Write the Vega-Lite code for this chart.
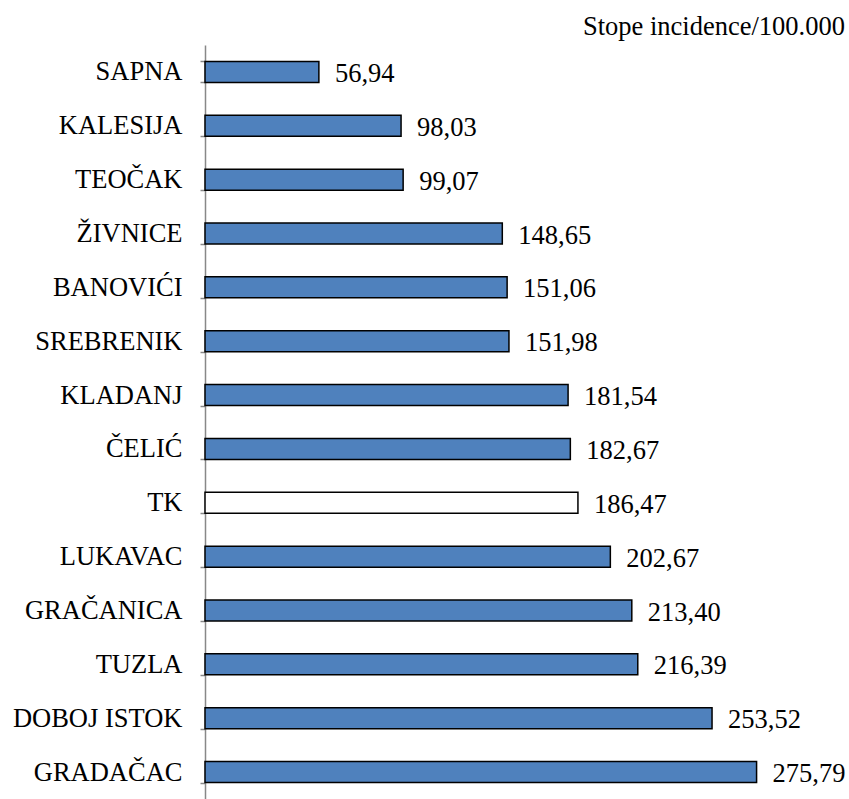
{
  "$schema": "https://vega.github.io/schema/vega-lite/v6.json",
  "autosize": {"type": "none"},
  "width": 600,
  "height": 754,
  "padding": {"left": 205, "top": 45, "right": 44, "bottom": 0},
  "background": "white",
  "title": {
    "text": "Stope incidence/100.000",
    "anchor": "end",
    "frame": "group",
    "font": "Liberation Serif",
    "fontSize": 26.5,
    "fontWeight": "normal",
    "color": "black",
    "baseline": "bottom",
    "offset": 3,
    "dx": 40,
    "dy": 38
  },
  "config": {
    "view": {"stroke": null},
    "font": "Liberation Serif"
  },
  "data": {
    "values": [
      {"mjesto": "SAPNA", "stopa": 56.94, "label": "56,94", "tip": "općina"},
      {"mjesto": "KALESIJA", "stopa": 98.03, "label": "98,03", "tip": "općina"},
      {"mjesto": "TEOČAK", "stopa": 99.07, "label": "99,07", "tip": "općina"},
      {"mjesto": "ŽIVNICE", "stopa": 148.65, "label": "148,65", "tip": "općina"},
      {"mjesto": "BANOVIĆI", "stopa": 151.06, "label": "151,06", "tip": "općina"},
      {"mjesto": "SREBRENIK", "stopa": 151.98, "label": "151,98", "tip": "općina"},
      {"mjesto": "KLADANJ", "stopa": 181.54, "label": "181,54", "tip": "općina"},
      {"mjesto": "ČELIĆ", "stopa": 182.67, "label": "182,67", "tip": "općina"},
      {"mjesto": "TK", "stopa": 186.47, "label": "186,47", "tip": "kanton"},
      {"mjesto": "LUKAVAC", "stopa": 202.67, "label": "202,67", "tip": "općina"},
      {"mjesto": "GRAČANICA", "stopa": 213.40, "label": "213,40", "tip": "općina"},
      {"mjesto": "TUZLA", "stopa": 216.39, "label": "216,39", "tip": "općina"},
      {"mjesto": "DOBOJ ISTOK", "stopa": 253.52, "label": "253,52", "tip": "općina"},
      {"mjesto": "GRADAČAC", "stopa": 275.79, "label": "275,79", "tip": "općina"}
    ]
  },
  "encoding": {
    "y": {
      "field": "mjesto",
      "type": "nominal",
      "sort": null,
      "scale": {"paddingInner": 0.61, "paddingOuter": 0.305},
      "axis": {
        "title": null,
        "domainColor": "#888888",
        "domainWidth": 1.5,
        "tickColor": "#888888",
        "tickWidth": 1.5,
        "tickSize": 5,
        "tickBand": "extent",
        "labelPadding": 18,
        "labelFont": "Liberation Serif",
        "labelFontSize": 26.5,
        "labelColor": "black",
        "labelLimit": 300
      }
    },
    "x": {
      "field": "stopa",
      "type": "quantitative",
      "scale": {"domain": [0, 300]},
      "axis": null
    }
  },
  "layer": [
    {
      "mark": {"type": "bar", "stroke": "black", "strokeWidth": 1.5},
      "encoding": {
        "fill": {
          "field": "tip",
          "type": "nominal",
          "scale": {"domain": ["općina", "kanton"], "range": ["#4F81BD", "#FFFFFF"]},
          "legend": null
        }
      }
    },
    {
      "mark": {"type": "text", "align": "left", "baseline": "middle", "dx": 16, "dy": 2, "font": "Liberation Serif", "fontSize": 26.5, "color": "black"},
      "encoding": {
        "text": {"field": "label", "type": "nominal"}
      }
    }
  ]
}
